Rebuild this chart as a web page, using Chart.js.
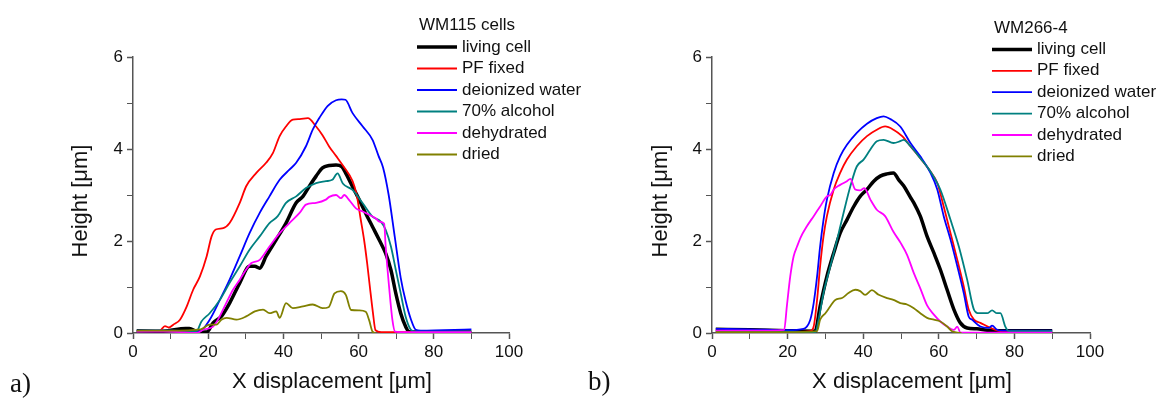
<!DOCTYPE html>
<html lang="en">
<head>
    <meta charset="UTF-8">
    <title>Cell height profiles</title>
    <script src="https://cdn.jsdelivr.net/npm/chart.js"></script>
    <style>
        body { margin: 0; background: #fff; }
        #wrap { position: relative; width: 1161px; height: 399px; }
        canvas { position: absolute; top: 0; }
    </style>
</head>
<body>
<div id="wrap">
    <!-- panel a is a bit wider so its legend text can run past the middle -->
    <canvas id="panelA" width="600" height="399" style="left:0"></canvas>
    <canvas id="panelB" width="581" height="399" style="left:580px"></canvas>
</div>
<script>
    // series names and colours (same for both panels)
    const seriesNames = ['living cell', 'PF fixed', 'deionized water', '70% alcohol', 'dehydrated', 'dried'];
    const seriesColors = ['#000000', '#ff0000', '#0000ff', '#008080', '#ff00ff', '#808000'];
    const seriesWidths = [3.5, 1.8, 1.8, 1.8, 1.8, 1.8];
    const xTickStep = 10;
    const yTickStep = 1;

    // panel a) WM115 cells
    const aLivingX = [1, 8, 14, 15, 17, 19.6, 21.3, 23.5, 25.7, 28.4, 31, 32.4, 33.7, 35.4, 38.1, 40.7, 43.4, 45.2, 46.9, 48.7, 50.4, 52.2, 54, 55.5, 56.6, 58.4, 60.2, 61.9, 63.7, 65.5, 67.2, 68.6, 69.9, 71.2, 72.5, 73.4, 76, 90];
    const aLivingY = [0.05, 0.04, 0.1, 0.1, 0.03, 0.02, 0.22, 0.36, 0.65, 1.09, 1.45, 1.45, 1.41, 1.67, 2.03, 2.39, 2.83, 2.97, 3.19, 3.41, 3.59, 3.64, 3.65, 3.62, 3.47, 3.18, 2.89, 2.6, 2.31, 2.02, 1.73, 1.37, 0.86, 0.43, 0.14, 0.03, 0.02, 0.02];
    const aFixedX = [1, 7, 8.5, 9.5, 10.7, 12.5, 14.3, 16, 17.8, 19.6, 20.9, 22, 24, 25.7, 28.4, 30.1, 32.8, 35.4, 37.2, 39, 40.7, 42.5, 44.3, 46.5, 48.7, 50.4, 52.2, 54, 56, 58.4, 59.5, 60.5, 61.5, 62.3, 63, 63.8, 64.5, 66, 90];
    const aFixedY = [0.04, 0.04, 0.15, 0.12, 0.18, 0.29, 0.58, 0.94, 1.23, 1.67, 2.1, 2.25, 2.28, 2.39, 2.83, 3.19, 3.48, 3.7, 3.91, 4.28, 4.49, 4.64, 4.65, 4.67, 4.49, 4.3, 4.05, 3.85, 3.62, 3.3, 3.0, 2.5, 2.0, 1.5, 1.0, 0.45, 0.06, 0.02, 0.02];
    const aWaterX = [1, 10, 16, 17.8, 20.4, 23.1, 25.7, 28.4, 31, 33.7, 36.3, 39, 41.6, 43.4, 46, 47.8, 49.6, 51.8, 54, 55.5, 56.5, 58.4, 61.1, 63.7, 65.3, 66.5, 68, 69.6, 71.2, 72.5, 73.9, 75.2, 76.5, 90];
    const aWaterY = [0.05, 0.05, 0.03, 0.04, 0.29, 0.72, 1.16, 1.67, 2.17, 2.61, 2.97, 3.33, 3.55, 3.7, 4.06, 4.42, 4.68, 4.94, 5.06, 5.08, 5.07, 4.78, 4.49, 4.2, 3.85, 3.6, 3.0, 2.1, 1.2, 0.7, 0.3, 0.07, 0.05, 0.08];
    const aAlcoholX = [1, 10, 16.9, 18.2, 20.4, 23.1, 25.7, 28.4, 31, 33.7, 36.3, 38.5, 40.7, 43.4, 46, 48.7, 51.3, 53, 54.4, 55.8, 58.4, 61.1, 63.7, 65.9, 67.2, 68.6, 69.9, 71.2, 72.5, 73.9, 75, 90];
    const aAlcoholY = [0.05, 0.05, 0.04, 0.25, 0.43, 0.72, 1.09, 1.45, 1.81, 2.1, 2.39, 2.54, 2.83, 2.97, 3.15, 3.26, 3.3, 3.33, 3.47, 3.25, 3.11, 2.82, 2.53, 2.42, 2.24, 1.88, 1.37, 0.86, 0.36, 0.07, 0.03, 0.03];
    const aDehydX = [1, 10, 16.9, 18.7, 21.3, 22.6, 24.5, 26.6, 28.4, 30.1, 31.5, 33.7, 36.3, 39, 41.6, 44.3, 46, 48.7, 51.3, 52.2, 54, 55.3, 56.2, 57.5, 59.3, 61.1, 62.8, 64.6, 65.5, 66.8, 67.2, 68.1, 69, 69.7, 71, 90];
    const aDehydY = [0.03, 0.03, 0, 0.07, 0.14, 0.29, 0.6, 0.94, 1.16, 1.38, 1.52, 1.59, 1.88, 2.17, 2.39, 2.61, 2.79, 2.83, 2.9, 2.96, 3.0, 2.93, 3.0, 2.89, 2.71, 2.64, 2.57, 2.49, 2.42, 2.38, 1.88, 1.01, 0.28, 0.03, 0.02, 0.02];
    const aDriedX = [1, 10, 18, 20.4, 22.2, 23.5, 24.9, 27.5, 30.1, 32.4, 34.6, 36.3, 38.1, 39, 40.7, 42.5, 45.2, 47.8, 50.4, 52, 53.6, 55.3, 56.6, 58, 60.2, 61.9, 62.8, 63.7, 64.5];
    const aDriedY = [0.05, 0.05, 0.08, 0.18, 0.18, 0.29, 0.33, 0.29, 0.36, 0.47, 0.51, 0.43, 0.47, 0.33, 0.65, 0.54, 0.58, 0.62, 0.54, 0.56, 0.86, 0.91, 0.83, 0.5, 0.49, 0.46, 0.28, 0.03, 0];

    // panel b) WM266-4
    const bLivingX = [1, 10, 20, 27.3, 28.6, 30.4, 32.2, 33.9, 35.7, 37.5, 39.2, 41, 42.8, 44.5, 46.3, 48, 49.4, 50.7, 52.5, 53.4, 55.1, 56.9, 58.7, 60.4, 62.2, 64, 65.7, 67.5, 70.1, 72.8, 76, 90];
    const bLivingY = [0.08, 0.07, 0.05, 0.04, 0.58, 1.23, 1.74, 2.17, 2.46, 2.75, 2.97, 3.12, 3.3, 3.41, 3.46, 3.48, 3.33, 3.2, 2.95, 2.83, 2.54, 2.1, 1.74, 1.38, 0.94, 0.51, 0.22, 0.11, 0.09, 0.06, 0.05, 0.05];
    const bFixedX = [1, 20, 26, 26.9, 27.8, 28.6, 29.5, 30.4, 32.2, 33.9, 35.7, 38.3, 41, 43.6, 45.8, 48, 50.3, 52.5, 55.1, 57.8, 59.6, 61.3, 63.1, 64.9, 66.6, 67.9, 69.3, 71, 73.7, 76.3, 90];
    const bFixedY = [0.03, 0.02, 0.04, 0.14, 0.72, 1.45, 2.1, 2.54, 3.12, 3.48, 3.77, 4.06, 4.28, 4.42, 4.49, 4.42, 4.28, 4.06, 3.8, 3.51, 3.26, 2.75, 2.17, 1.59, 1.01, 0.51, 0.29, 0.22, 0.11, 0.04, 0.02];
    const bWaterX = [1, 10, 20, 24.2, 26, 26.9, 27.8, 28.6, 29.5, 30.4, 32.2, 33.9, 35.7, 38.3, 41, 43.6, 45.4, 47.2, 49.8, 52.5, 55.1, 57.8, 59.6, 61.3, 63.1, 64.9, 66.6, 67.9, 68.8, 71, 73.2, 74.1, 75.4, 77, 90];
    const bWaterY = [0.09, 0.08, 0.06, 0.09, 0.29, 0.65, 1.23, 1.88, 2.46, 2.9, 3.48, 3.84, 4.09, 4.35, 4.55, 4.67, 4.71, 4.65, 4.49, 4.13, 3.84, 3.48, 3.12, 2.54, 2.03, 1.45, 0.87, 0.36, 0.29, 0.14, 0.11, 0.16, 0.07, 0.05, 0.05];
    const bAlcoholX = [1, 20, 27.3, 28.2, 29.5, 31.3, 33.1, 34.8, 36.6, 38.3, 40.1, 41.9, 43.6, 45.4, 48, 49.8, 50.7, 52.5, 55.1, 57.8, 60.4, 63.1, 65.3, 67.5, 69.3, 70.6, 72.8, 74.1, 75.4, 76.3, 77.6, 78.5, 90];
    const bAlcoholY = [0.03, 0.03, 0.01, 0.29, 0.87, 1.45, 2.03, 2.61, 3.19, 3.62, 3.77, 3.99, 4.17, 4.2, 4.13, 4.17, 4.2, 4.06, 3.8, 3.51, 3.12, 2.46, 1.88, 1.16, 0.51, 0.43, 0.43, 0.49, 0.43, 0.43, 0.14, 0.04, 0.04];
    const bDehydX = [1, 10, 19.1, 19.8, 20.7, 21.6, 22.5, 23.4, 25.1, 26.9, 28.6, 30.4, 31.3, 32.2, 33.9, 35.7, 36.6, 37.9, 39.2, 40.3, 41.9, 43.6, 45.8, 48, 49.9, 51.6, 53.4, 55.1, 56.9, 58.7, 60.4, 62.2, 64, 64.9, 65.7, 70, 90];
    const bDehydY = [0.05, 0.05, 0.07, 0.58, 1.23, 1.67, 1.88, 2.07, 2.32, 2.54, 2.75, 2.97, 3.0, 3.12, 3.22, 3.3, 3.35, 3.12, 3.1, 3.15, 2.9, 2.68, 2.54, 2.2, 1.96, 1.7, 1.3, 0.97, 0.6, 0.4, 0.25, 0.14, 0.07, 0.14, 0.01, 0.01, 0.01];
    const bDriedX = [1, 20, 27.8, 28.6, 30, 31.3, 32.6, 34.4, 36.1, 37.9, 39.2, 40.5, 42.3, 44.1, 46.3, 48, 49.8, 51.6, 53.4, 55.1, 56.9, 58.7, 60.4, 62.2, 63.5, 64.9, 66];
    const bDriedY = [0.02, 0.02, 0.04, 0.29, 0.43, 0.58, 0.72, 0.76, 0.87, 0.94, 0.91, 0.83, 0.93, 0.83, 0.76, 0.72, 0.65, 0.62, 0.54, 0.43, 0.33, 0.29, 0.25, 0.14, 0.04, 0.01, 0];

    const FONT = '"Liberation Sans", Arial, sans-serif';
    const xTitle = 'X displacement [\u03bcm]';
    const yTitle = 'Height [\u03bcm]';

    // legend block, axis titles and panel letter drawn over the plot like in the figure
    const panelDecor = {
        id: 'panelDecor',
        afterDraw(chart, args, opts) {
            const ctx = chart.ctx;
            const area = chart.chartArea;
            ctx.save();
            ctx.fillStyle = '#111';
            ctx.textBaseline = 'middle';

            // legend (datasets are stored reversed so black draws on top)
            ctx.font = '17px ' + FONT;
            ctx.fillText(opts.title, opts.x + 2, opts.y);
            chart.data.datasets.slice().reverse().forEach((ds, i) => {
                const y = opts.y + (i + 1) * opts.rowGap;
                ctx.strokeStyle = ds.borderColor;
                ctx.lineWidth = ds.borderWidth;
                ctx.beginPath();
                ctx.moveTo(opts.x, y);
                ctx.lineTo(opts.x + 40, y);
                ctx.stroke();
                ctx.fillText(ds.label, opts.x + 45, y);
            });

            // axis titles (a little off centre in the original)
            ctx.font = '22px ' + FONT;
            ctx.textAlign = 'center';
            ctx.fillText(xTitle, (area.left + area.right) / 2 + 11, 382);
            ctx.save();
            ctx.translate(81, (area.top + area.bottom) / 2 + 6);
            ctx.rotate(-Math.PI / 2);
            ctx.fillText(yTitle, 0, 0);
            ctx.restore();

            ctx.textAlign = 'left';
            ctx.font = '27px "Liberation Serif", "Times New Roman", serif';
            ctx.fillText(opts.tag, opts.tagX, opts.tagY);
            ctx.restore();
        }
    };

    function makeDatasets(xs, ys) {
        return seriesNames.map((name, i) => ({
            label: name,
            data: xs[i].map((x, j) => ({ x: x, y: ys[i][j] })),
            borderColor: seriesColors[i],
            borderWidth: seriesWidths[i],
            pointRadius: 0,
            fill: false,
            cubicInterpolationMode: 'monotone'
        })).reverse();
    }

    function makeChart(id, xs, ys, decor, yWidth, padRight) {
        return new Chart(document.getElementById(id), {
            type: 'line',
            data: { datasets: makeDatasets(xs, ys) },
            options: {
                responsive: false,
                animation: false,
                devicePixelRatio: 1,
                layout: { padding: { left: 0, right: padRight, top: 57, bottom: 0 } },
                plugins: {
                    legend: { display: false },
                    tooltip: { enabled: false },
                    panelDecor: decor
                },
                scales: {
                    x: {
                        type: 'linear', min: 0, max: 100,
                        ticks: {
                            stepSize: xTickStep, autoSkip: false, maxRotation: 0, padding: 3,
                            color: '#111', font: { size: 17, family: FONT },
                            callback: v => (v % 20 === 0 ? v : '')
                        },
                        grid: {
                            drawOnChartArea: false, tickLength: 6, color: '#555',
                            tickWidth: c => (c.tick && c.tick.value % 20 === 0 ? 1.5 : 1)
                        },
                        border: { color: '#555', width: 1.5 },
                        afterFit: s => { s.height = 66; }
                    },
                    y: {
                        min: 0, max: 6,
                        ticks: {
                            stepSize: yTickStep, padding: 4,
                            color: '#111', font: { size: 17, family: FONT },
                            callback: v => (v % 2 === 0 ? v : '')
                        },
                        grid: {
                            drawOnChartArea: false, tickLength: 6, color: '#555',
                            tickWidth: c => (c.tick && c.tick.value % 2 === 0 ? 1.5 : 1)
                        },
                        border: { color: '#555', width: 1.5 },
                        afterFit: s => { s.width = yWidth; }
                    }
                }
            },
            plugins: [panelDecor]
        });
    }

    makeChart('panelA',
        [aLivingX, aFixedX, aWaterX, aAlcoholX, aDehydX, aDriedX],
        [aLivingY, aFixedY, aWaterY, aAlcoholY, aDehydY, aDriedY],
        { title: 'WM115 cells', x: 417, y: 25.5, rowGap: 21.5, tag: 'a)', tagX: 10, tagY: 385 },
        133, 91);

    makeChart('panelB',
        [bLivingX, bFixedX, bWaterX, bAlcoholX, bDehydX, bDriedX],
        [bLivingY, bFixedY, bWaterY, bAlcoholY, bDehydY, bDriedY],
        { title: 'WM266-4', x: 412, y: 28, rowGap: 21.4, tag: 'b)', tagX: 8, tagY: 383 },
        132, 71);
</script>
</body>
</html>
